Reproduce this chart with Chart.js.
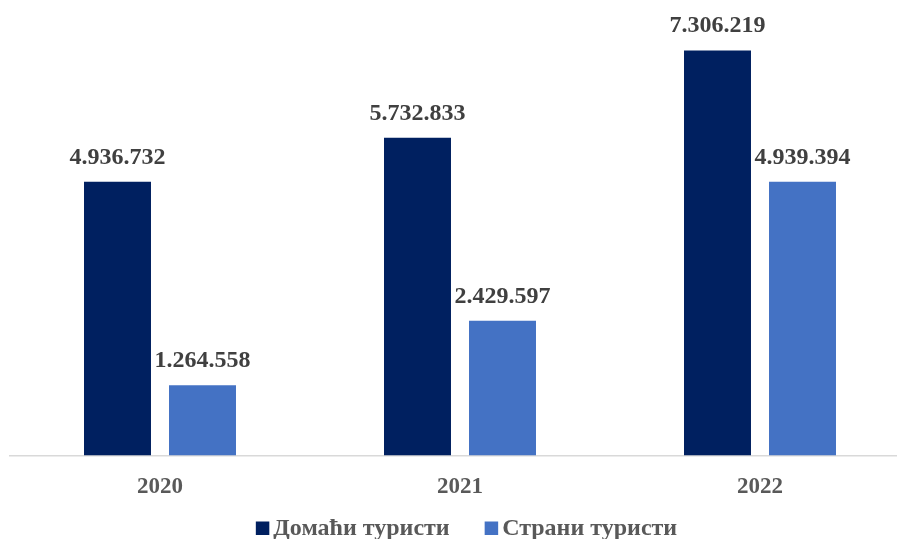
<!DOCTYPE html>
<html>
<head>
<meta charset="utf-8">
<script src="https://cdn.jsdelivr.net/npm/chart.js@4"></script>
<style>
  html, body { margin: 0; padding: 0; overflow: hidden; background: #fff; }
  #wrap { width: 933px; height: 539px; overflow: hidden; }
</style>
</head>
<body>
<div id="wrap"><canvas id="barChart" width="933" height="539"></canvas></div>
<script>
const years = ['2020', '2021', '2022'];
const domestic = [4936732, 5732833, 7306219];
const foreign = [1264558, 2429597, 4939394];
const seriesNames = ['Домаћи туристи', 'Страни туристи'];

const fmt = v => v.toString().replace(/\B(?=(\d{3})+(?!\d))/g, '.');
const serif = '"Liberation Serif", "Times New Roman", serif';

// draws the value above every bar
const valueLabels = {
  id: 'valueLabels',
  afterDatasetsDraw(chart) {
    const ctx = chart.ctx;
    ctx.save();
    ctx.font = 'bold 24px ' + serif;
    ctx.fillStyle = '#404040';
    ctx.textAlign = 'center';
    ctx.textBaseline = 'alphabetic';
    chart.data.datasets.forEach((ds, i) => {
      chart.getDatasetMeta(i).data.forEach((bar, j) => {
        ctx.fillText(fmt(ds.data[j]), bar.x, bar.y - 18);
      });
    });
    ctx.restore();
  }
};

// legend under the axis labels, box close to the text like in Excel
const bottomLegend = {
  id: 'bottomLegend',
  afterDraw(chart) {
    const ctx = chart.ctx;
    const box = 13.5, gapText = 4, gapItem = 35;
    ctx.save();
    ctx.font = 'bold 24px ' + serif;
    ctx.textBaseline = 'alphabetic';
    ctx.textAlign = 'left';
    const items = chart.data.datasets.map(ds => ({
      text: ds.label, color: ds.backgroundColor, w: ctx.measureText(ds.label).width
    }));
    let total = 0;
    items.forEach((it, i) => { total += box + gapText + it.w + (i ? gapItem : 0); });
    let x = chart.width / 2 - total / 2;
    const base = 535;
    items.forEach(it => {
      ctx.fillStyle = it.color;
      ctx.fillRect(x, base - box, box, box);
      x += box + gapText;
      ctx.fillStyle = '#595959';
      ctx.fillText(it.text, x, base);
      x += it.w + gapItem;
    });
    ctx.restore();
  }
};

const ctx = document.getElementById('barChart').getContext('2d');
new Chart(ctx, {
  type: 'bar',
  data: {
    labels: years,
    datasets: [
      { label: seriesNames[0], data: domestic, backgroundColor: '#002060' },
      { label: seriesNames[1], data: foreign, backgroundColor: '#4472C4' }
    ]
  },
  options: {
    responsive: false,
    animation: false,
    layout: { padding: { left: 10, right: 23, top: 12, bottom: 28 } },
    datasets: { bar: { categoryPercentage: 0.5667, barPercentage: 0.788 } },
    scales: {
      x: {
        grid: { display: false },
        border: { display: true, color: '#d9d9d9', width: 1.5 },
        ticks: {
          color: '#595959',
          padding: 10,
          font: { family: serif, size: 23, weight: 'bold' }
        }
      },
      y: { display: false, min: 0, max: 8000000 }
    },
    plugins: {
      legend: { display: false },
      tooltip: { enabled: false }
    }
  },
  plugins: [valueLabels, bottomLegend]
});
</script>
</body>
</html>
